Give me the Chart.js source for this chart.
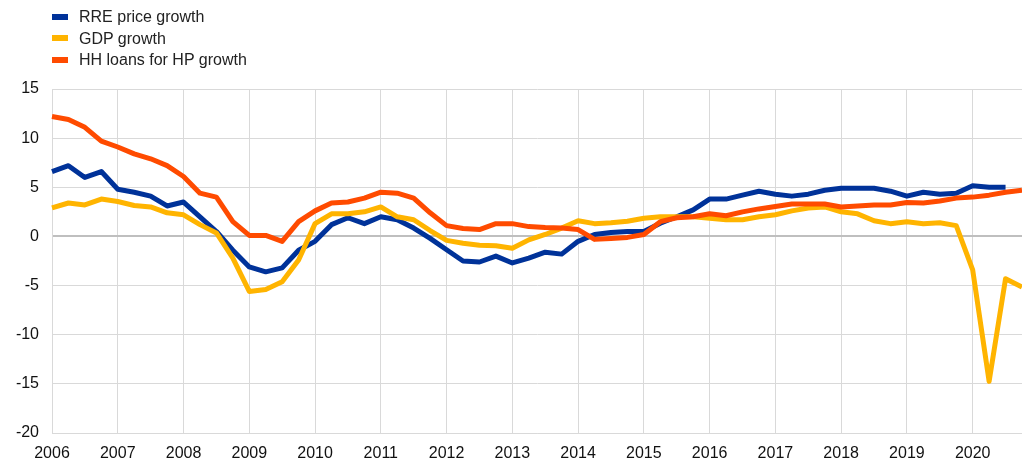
<!DOCTYPE html>
<html>
<head>
<meta charset="utf-8">
<script src="https://cdn.jsdelivr.net/npm/chart.js@4/dist/chart.umd.min.js"></script>
<style>
  html, body { margin: 0; padding: 0; background: #fff; }
  #wrap { position: relative; width: 1022px; height: 463px; }
  #legend { position: absolute; left: 52px; top: 6px; font: 16px "Liberation Sans", Arial, sans-serif; color: #222; }
  #legend div { height: 21.5px; line-height: 21.5px; white-space: nowrap; }
  #legend span { display: inline-block; width: 16px; height: 6px; margin-right: 11px; vertical-align: middle; position: relative; top: -1px; }
</style>
</head>
<body>
<div id="wrap">
  <canvas id="chart" width="1022" height="463"></canvas>
  <div id="legend"></div>
</div>
<script>
// quarters 2006Q1 .. 2020Q4
const years = ['2006','2007','2008','2009','2010','2011','2012','2013','2014','2015','2016','2017','2018','2019','2020'];
const quarters = [];
years.forEach(y => { ['Q1','Q2','Q3','Q4'].forEach(q => quarters.push(y + ' ' + q)); });

const rrePrice = [
  6.6, 7.2, 6.0, 6.6, 4.8, 4.5, 4.1, 3.1,
  3.5, 2.0, 0.5, -1.4, -3.1, -3.6, -3.2, -1.4,
  -0.5, 1.2, 1.9, 1.3, 2.0, 1.7, 0.85, -0.2,
  -1.35, -2.5, -2.6, -2.0, -2.7, -2.2, -1.6, -1.8,
  -0.5, 0.2, 0.4, 0.5, 0.5, 1.35, 2.0, 2.7,
  3.8, 3.8, 4.2, 4.6, 4.3, 4.1, 4.3, 4.7,
  4.9, 4.9, 4.9, 4.6, 4.1, 4.5, 4.3, 4.4,
  5.15, 5.0, 5.0, null
];
const gdp = [
  2.9, 3.4, 3.2, 3.8, 3.55, 3.15, 3.0, 2.4,
  2.2, 1.2, 0.35, -2.2, -5.6, -5.4, -4.6, -2.4,
  1.3, 2.3, 2.3, 2.5, 3.0, 2.0, 1.7, 0.6,
  -0.4, -0.7, -0.9, -0.95, -1.2, -0.35, 0.2, 0.85,
  1.6, 1.3, 1.4, 1.55, 1.85, 2.0, 2.0, 2.0,
  1.85, 1.7, 1.7, 2.0, 2.2, 2.6, 2.9, 3.0,
  2.5, 2.3, 1.6, 1.3, 1.5, 1.3, 1.4, 1.1,
  -3.4, -14.75, -4.3, -5.15
];
const hhLoans = [
  12.2, 11.9, 11.1, 9.7, 9.1, 8.4, 7.9, 7.2,
  6.1, 4.4, 4.0, 1.5, 0.1, 0.1, -0.5, 1.5,
  2.6, 3.4, 3.5, 3.9, 4.5, 4.4, 3.9, 2.4,
  1.1, 0.8, 0.7, 1.3, 1.3, 1.0, 0.9, 0.85,
  0.7, -0.3, -0.2, -0.1, 0.2, 1.5, 1.9, 2.0,
  2.3, 2.1, 2.5, 2.8, 3.05, 3.3, 3.3, 3.3,
  3.0, 3.1, 3.2, 3.2, 3.45, 3.4, 3.6, 3.9,
  4.0, 4.2, 4.5, 4.7
];
const yTicks = [15, 10, 5, 0, -5, -10, -15, -20];

const seriesNames = ['RRE price growth', 'GDP growth', 'HH loans for HP growth'];
const seriesColors = ['#003299', '#ffb400', '#ff4b00'];

const legendEl = document.getElementById('legend');
seriesNames.forEach((n, i) => {
  const row = document.createElement('div');
  row.innerHTML = '<span style="background:' + seriesColors[i] + '"></span>' + n;
  legendEl.appendChild(row);
});

const fontFamily = '"Liberation Sans", Arial, sans-serif';

const ctx = document.getElementById('chart').getContext('2d');
const chart = new Chart(ctx, {
  type: 'line',
  data: {
    labels: quarters,
    datasets: [
      { label: seriesNames[0], data: rrePrice, borderColor: seriesColors[0], order: 2 },
      { label: seriesNames[1], data: gdp, borderColor: seriesColors[1], order: 1 },
      { label: seriesNames[2], data: hhLoans, borderColor: seriesColors[2], order: 0 }
    ].map(d => Object.assign(d, {
      borderWidth: 5,
      pointRadius: 0,
      tension: 0,
      fill: false,
      spanGaps: false,
      borderJoinStyle: 'round'
    }))
  },
  options: {
    responsive: false,
    animation: false,
    layout: { padding: { top: 89, right: 0, left: 0, bottom: 0 } },
    scales: {
      x: {
        type: 'category',
        offset: false,
        grid: {
          color: '#d9d9d9',
          lineWidth: 1,
          drawTicks: false
        },
        border: { color: '#d9d9d9' },
        ticks: {
          autoSkip: false,
          maxRotation: 0,
          padding: 11,
          color: '#111',
          font: { family: fontFamily, size: 16 },
          callback: function (val, idx) {
            const lab = quarters[idx];
            return lab.endsWith('Q1') ? lab.slice(0, 4) : null;
          }
        },
        afterFit: s => { s.height = 30; }
      },
      y: {
        min: -20,
        max: 15,
        afterBuildTicks: s => { s.ticks = yTicks.map(v => ({ value: v })); },
        grid: {
          color: c => c.tick && c.tick.value === 0 ? '#bfbfbf' : '#d9d9d9',
          lineWidth: c => c.tick && c.tick.value === 0 ? 2 : 1,
          drawTicks: false
        },
        border: { color: '#d9d9d9' },
        ticks: {
          padding: 13,
          color: '#111',
          font: { family: fontFamily, size: 16 }
        },
        afterFit: s => { s.width = 52; }
      }
    },
    plugins: {
      legend: { display: false },
      tooltip: { enabled: false }
    }
  }
});
</script>
</body>
</html>
